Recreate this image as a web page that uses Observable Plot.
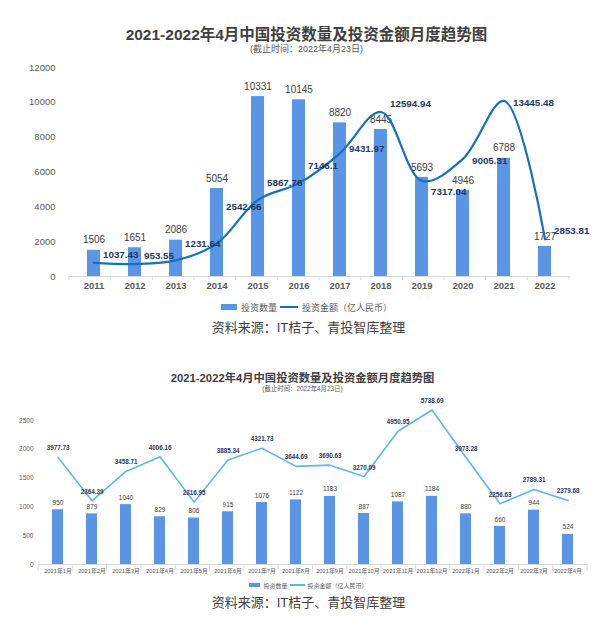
<!DOCTYPE html>
<html>
<head>
<meta charset="utf-8">
<script src="https://cdn.jsdelivr.net/npm/d3@7"></script>
<script src="https://cdn.jsdelivr.net/npm/@observablehq/plot@0.6"></script>
<style>
  html, body { margin: 0; padding: 0; background: #fff; }
  body { width: 605px; height: 617px; position: relative; overflow: hidden;
         font-family: "Liberation Sans", Arial, "Noto Sans CJK SC", sans-serif; }
  .abs { position: absolute; left: 0; width: 605px; text-align: center; white-space: nowrap; }
  .legend { display: flex; justify-content: center; align-items: center; color: #595959; }
  .legend span { display: inline-block; }
</style>
</head>
<body>
<div class="abs" style="top:25px;line-height:20px;font-size:15.5px;font-weight:bold;color:#404040;padding-left:4px;">2021-2022年4月中国投资数量及投资金额月度趋势图</div>
<div class="abs" style="top:43px;line-height:12px;font-size:9px;color:#595959;padding-left:4px;">(截止时间：2022年4月23日)</div>
<div id="chart1" style="position:absolute;top:57px;left:0;"></div>
<div class="abs legend" style="top:301px;height:12px;font-size:9px;padding-left:4px;">
  <span style="width:16px;height:6px;background:#5b95e5;margin-right:4px;"></span><span>投资数量</span>
  <span style="width:18px;height:2px;background:#1470c0;margin:0 4px 0 3px;"></span><span>投资金额（亿人民币）</span>
</div>
<div class="abs" style="top:320px;line-height:16px;font-size:13px;color:#404040;padding-left:6px;">资料来源：IT桔子、青投智库整理</div>

<div class="abs" style="top:371px;line-height:14px;font-size:11.3px;font-weight:bold;color:#404040;">2021-2022年4月中国投资数量及投资金额月度趋势图</div>
<div class="abs" style="top:385px;line-height:8px;font-size:6.4px;color:#595959;">(截止时间：2022年4月23日)</div>
<div id="chart2" style="position:absolute;top:395px;left:0;"></div>
<div class="abs legend" style="top:580px;height:10px;font-size:6px;padding-left:6px;">
  <span style="width:11px;height:4px;background:#5b95e5;margin-right:3px;"></span><span>投资数量</span>
  <span style="width:15px;height:1.5px;background:#5bb8ec;margin:0 3px 0 2px;"></span><span>投资金额（亿人民币）</span>
</div>
<div class="abs" style="top:595px;line-height:16px;font-size:13px;color:#404040;padding-left:6px;">资料来源：IT桔子、青投智库整理</div>

<script>
// ---- Chart 1 data (annual) ----
const years = ["2011","2012","2013","2014","2015","2016","2017","2018","2019","2020","2021","2022"];
const yearCounts = [1506, 1651, 2086, 5054, 10331, 10145, 8820, 8445, 5693, 4946, 6788, 1727];
const yearAmounts = [1037.43, 953.55, 1231.64, 2542.66, 5867.76, 7146.1, 9431.97, 12594.94, 7317.04, 9005.31, 13445.48, 2853.81];
const yTicks1 = [0, 2000, 4000, 6000, 8000, 10000, 12000];
const yMax1 = 12000;
const amountAxisMax1 = 16000; // hidden secondary axis

// ---- Chart 2 data (monthly) ----
const months = ["2021年1月","2021年2月","2021年3月","2021年4月","2021年5月","2021年6月","2021年7月","2021年8月",
                "2021年9月","2021年10月","2021年11月","2021年12月","2022年1月","2022年2月","2022年3月","2022年4月"];
const monthCounts = [950, 879, 1040, 829, 806, 915, 1076, 1122, 1183, 887, 1087, 1184, 880, 660, 944, 524];
const monthAmounts = [3977.73, 2364.39, 3458.71, 4006.16, 2316.95, 3885.34, 4321.73, 3644.69, 3690.63, 3270.09,
                      4950.95, 5738.69, 3973.28, 2256.63, 2789.31, 2379.68];
const yTicks2 = [0, 500, 1000, 1500, 2000, 2500];
const yMax2 = 2500;
const amountAxisMax2 = 5350; // hidden secondary axis

const font = '"Liberation Sans", Arial, "Noto Sans CJK SC", sans-serif';

// label placement groups for the annual amount labels (vertical offset style, px)
const amountLabelGroups = [
  {dy: -8,  years: ["2011", "2012", "2018", "2022"]},
  {dy: -17, years: ["2013", "2015", "2016"]},
  {dy: -36, years: ["2014"]},
  {dy: -4,  years: ["2017"]},
  {dy: 11,  years: ["2019"]},
  {dy: 2,   years: ["2020", "2021"]}
];

// separator ticks between categories, below the baseline
function sepTicks(n, len, color) {
  return (index, scales, values, dim) => {
    const g = d3.create("svg:g");
    const x0 = dim.marginLeft, x1 = dim.width - dim.marginRight;
    const yb = dim.height - dim.marginBottom;
    for (let i = 0; i <= n; i++) {
      const x = x0 + (x1 - x0) * i / n;
      g.append("line").attr("x1", x).attr("x2", x).attr("y1", yb).attr("y2", yb + len)
        .attr("stroke", color).attr("stroke-width", 1);
    }
    return g.node();
  };
}

const data1 = years.map((y, i) => ({year: y, count: yearCounts[i], amount: yearAmounts[i]}));
const k1 = yMax1 / amountAxisMax1;

const chart1 = Plot.plot({
  width: 605,
  height: 239,
  marginTop: 10,
  marginBottom: 20,
  marginLeft: 69,
  marginRight: 36,
  style: {fontFamily: font, color: "#595959", background: "transparent"},
  x: {domain: years, paddingInner: 0.69, paddingOuter: 0.345},
  y: {domain: [0, yMax1]},
  marks: [
    Plot.barY(data1, {x: "year", y: "count", fill: "#5b95e5"}),
    Plot.ruleY([0], {stroke: "#d9d9d9"}),
    sepTicks(years.length, 4, "#d9d9d9"),
    Plot.axisY({ticks: yTicks1, tickSize: 0, tickPadding: 14, tickFormat: d => String(d), fontSize: 9.5, label: null}),
    Plot.axisX({tickSize: 0, tickPadding: 6, fontSize: 9.5, fontWeight: "bold", label: null}),
    Plot.text(data1, {x: "year", y: "count", text: d => String(d.count), dy: -10, fill: "#404040", fontSize: 10}),
    Plot.lineY(data1, {x: "year", y: d => d.amount * k1, stroke: "#1470c0", strokeWidth: 2.2, curve: "catmull-rom"}),
    ...amountLabelGroups.map(g =>
      Plot.text(data1.filter(d => g.years.includes(d.year)), {
        x: "year", y: d => d.amount * k1, text: d => String(d.amount), textAnchor: "start",
        dx: 9, dy: g.dy, fill: "#1f3864", fontWeight: "bold", fontSize: 9.8
      }))
  ]
});
document.getElementById("chart1").appendChild(chart1);

const data2 = months.map((m, i) => ({month: m, count: monthCounts[i], amount: monthAmounts[i]}));
const k2 = yMax2 / amountAxisMax2;

const chart2 = Plot.plot({
  width: 605,
  height: 184,
  marginTop: 25,
  marginBottom: 15,
  marginLeft: 38,
  marginRight: 18,
  style: {fontFamily: font, color: "#595959", background: "transparent"},
  x: {domain: months, paddingInner: 0.68, paddingOuter: 0.34},
  y: {domain: [0, yMax2]},
  marks: [
    Plot.barY(data2, {x: "month", y: "count", fill: "#5b95e5"}),
    Plot.ruleY([0], {stroke: "#d9d9d9"}),
    sepTicks(months.length, 7, "#d9d9d9"),
    Plot.axisY({ticks: yTicks2, tickSize: 0, tickPadding: 5, tickFormat: d => String(d), fontSize: 6.5, label: null}),
    Plot.axisX({tickSize: 0, tickPadding: 4, fontSize: 5.8, label: null}),
    Plot.text(data2, {x: "month", y: "count", text: d => String(d.count), dy: -7, fill: "#404040", fontSize: 6.5}),
    Plot.lineY(data2, {x: "month", y: d => d.amount * k2, stroke: "#5bb8ec", strokeWidth: 1.6}),
    Plot.text(data2, {x: "month", y: d => d.amount * k2, text: d => d.amount.toFixed(2), dy: -9,
                      fill: "#1f3864", fontWeight: "bold", fontSize: 6.3})
  ]
});
document.getElementById("chart2").appendChild(chart2);
</script>
</body>
</html>
